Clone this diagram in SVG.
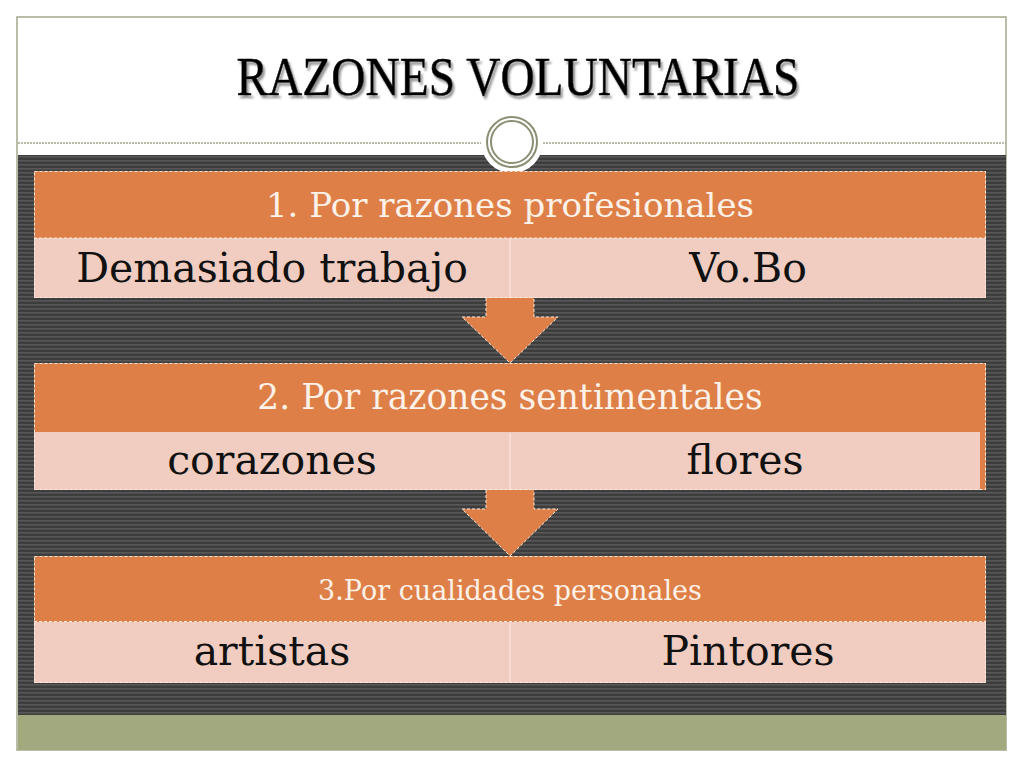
<svg xmlns="http://www.w3.org/2000/svg" width="1024" height="768" viewBox="0 0 1024 768">
<defs>
<pattern id="stripes" x="0" y="0" width="8" height="4" patternUnits="userSpaceOnUse">
<rect width="8" height="4" fill="#3d3d3d"/>
<rect y="0" width="8" height="1.6" fill="#575757"/>
</pattern>
<filter id="shadow" x="-5%" y="-20%" width="110%" height="150%">
<feDropShadow dx="2" dy="3" stdDeviation="1.2" flood-color="#777" flood-opacity="0.8"/>
</filter>
<style>
.orange{fill:#dd7f47;}
.pink{fill:#f0cdc0;}
.dash{fill:none;stroke:#fbe9dd;stroke-width:1;stroke-dasharray:3 2;}
.title{font-family:"Liberation Serif","Times New Roman",serif;font-size:55px;fill:#050505;stroke:#050505;stroke-width:0.5px;text-anchor:middle;}
.head{font-family:"DejaVu Serif","Liberation Serif",serif;fill:#fdf1e8;text-anchor:middle;}
.cell{font-family:"DejaVu Serif","Liberation Serif",serif;fill:#111;text-anchor:middle;}
.div{stroke:#f6dcd2;stroke-width:2;}
</style>
</defs>
<rect width="1024" height="768" fill="#ffffff"/>
<!-- frame -->
<rect x="17" y="17" width="989" height="733" fill="#ffffff" stroke="#a4a78a" stroke-width="1.5"/>
<rect x="18" y="155" width="988" height="560" fill="url(#stripes)"/>
<rect x="18" y="715" width="988" height="35" fill="#a3a97e"/>
<line x1="18" y1="143" x2="1006" y2="143" stroke="#a4a68c" stroke-width="1.5" stroke-dasharray="2 1"/>
<!-- title -->
<g id="title">
<text class="title" x="518" y="95" textLength="563" lengthAdjust="spacingAndGlyphs" filter="url(#shadow)">RAZONES VOLUNTARIAS</text>
</g>
<g id="ornament">
<circle cx="512" cy="142" r="31" fill="#ffffff"/>
<circle cx="512" cy="142" r="25" fill="none" stroke="#8b8e73" stroke-width="2"/>
<circle cx="512" cy="142" r="21" fill="none" stroke="#8b8e73" stroke-width="2"/>
</g>
<!-- connectors -->
<g id="connectors">
<polygon class="orange" points="486,298 534,298 534,317 558,317 510,363 462,317 486,317"/>
<polyline class="dash" points="486,298 486,317 462,317 510,363 558,317 534,317 534,298"/>
<polygon class="orange" points="486,490 534,490 534,509 558,509 510,556 462,509 486,509"/>
<polyline class="dash" points="486,490 486,509 462,509 510,556 558,509 534,509 534,490"/>
</g>
<!-- node 1 -->
<g id="node1">
<rect class="orange" x="34" y="171" width="952" height="67"/>
<rect class="pink" x="34" y="238" width="952" height="60"/>
<line class="div" x1="510" y1="239" x2="510" y2="297"/>
<rect class="dash" x="34.5" y="171.5" width="951" height="126"/>
<line class="dash" x1="34" y1="238" x2="986" y2="238"/>
<text class="head" x="510" y="217" font-size="34">1. Por razones profesionales</text>
<text class="cell" x="272" y="282" font-size="41">Demasiado trabajo</text>
<text class="cell" x="748" y="282" font-size="41">Vo.Bo</text>
</g>
<!-- node 2 -->
<g id="node2">
<rect class="orange" x="34" y="363" width="952" height="127"/>
<rect class="pink" x="34" y="432" width="946" height="58"/>
<line class="div" x1="510" y1="433" x2="510" y2="489"/>
<rect class="dash" x="34.5" y="363.5" width="951" height="126"/>
<text class="head" x="510" y="409" font-size="34.5">2. Por razones sentimentales</text>
<text class="cell" x="272" y="474" font-size="41">corazones</text>
<text class="cell" x="745" y="474" font-size="41">flores</text>
</g>
<!-- node 3 -->
<g id="node3">
<rect class="orange" x="34" y="556" width="952" height="66"/>
<rect class="pink" x="34" y="622" width="952" height="61"/>
<line class="div" x1="510" y1="623" x2="510" y2="682"/>
<rect class="dash" x="34.5" y="556.5" width="951" height="126"/>
<line class="dash" x1="34" y1="621.5" x2="986" y2="621.5"/>
<text class="head" x="510" y="600" font-size="27">3.Por cualidades personales</text>
<text class="cell" x="272" y="665" font-size="41">artistas</text>
<text class="cell" x="748" y="665" font-size="41">Pintores</text>
</g>
</svg>
